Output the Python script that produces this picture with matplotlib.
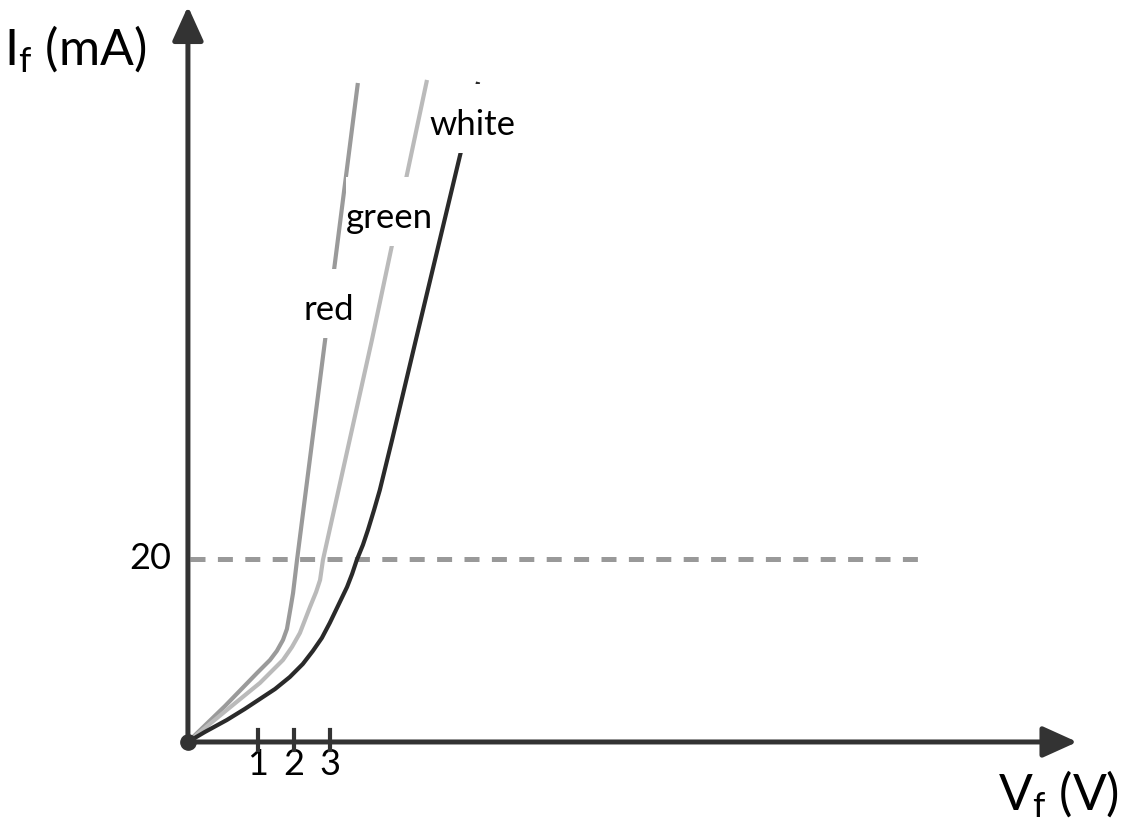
import matplotlib
matplotlib.use("Agg")
import matplotlib.pyplot as plt
from matplotlib.patches import Rectangle

# =====================================================
# 1. DATA
# =====================================================

# x in volts-like units from the origin, y in mA
red_v = [0, 1.03, 1.92, 2.28, 2.47, 2.64, 2.75, 2.86, 2.92, 3.03, 3.81, 4.72]
red_i = [0, 3.93, 7.54, 8.96, 9.95, 11.15, 12.35, 14.86, 16.28, 19.89,
         43.93, 72.02]

green_v = [0, 1.08, 2.00, 2.64, 2.89, 3.11, 3.25, 3.39, 3.56, 3.67, 3.75,
           5.11, 6.64]
green_i = [0, 3.50, 6.45, 8.96, 10.38, 11.91, 13.33, 14.75, 16.39, 17.70,
           19.89, 43.93, 72.35]

white_v = [0, 0.47, 1.08, 1.58, 2.00, 2.42, 2.83, 3.19, 3.47, 3.72, 3.94,
           4.22, 4.42, 4.56, 4.69, 4.86, 5.00, 5.17, 5.33, 5.67, 6.00, 6.33,
           7.56, 8.06]
white_i = [0, 1.09, 2.40, 3.61, 4.70, 5.79, 7.10, 8.52, 9.95, 11.37, 13.01,
           15.30, 16.94, 18.36, 19.89, 21.53, 23.17, 25.36, 27.54, 33.01,
           38.47, 43.93, 64.15, 72.13]

ref_current = 20
ref_end = 20.28

tick_pos = [1.94, 2.94, 3.94]
tick_labels = ["1", "2", "3"]

labels = ["red", "green", "white"]
label_x = [3.90, 5.61, 7.90]
label_y = [46.12, 56.17, 66.34]

x_axis_end = 24.7
y_axis_end = 80.4

# =====================================================
# 2. FIGURE
# =====================================================

plt.rcParams["font.family"] = ["Lato", "DejaVu Sans"]
plt.rcParams["mathtext.fontset"] = "custom"
plt.rcParams["mathtext.rm"] = "Lato"

axis_col = "#333333"

fig = plt.figure(figsize=(11.24, 8.31), dpi=100)
ax = fig.add_axes([0, 0, 1, 1])
ax.set_xlim(-5.22, 26.0)
ax.set_ylim(-9.73, 81.09)
ax.axis("off")

# axes with arrow heads
arrow = dict(arrowstyle="-|>,head_length=0.42,head_width=0.19",
             mutation_scale=50, lw=3.6, color=axis_col,
             shrinkA=0, shrinkB=0)
ax.annotate("", xy=(x_axis_end, 0), xytext=(0, 0), arrowprops=arrow, zorder=5)
ax.annotate("", xy=(0, y_axis_end), xytext=(0, 0), arrowprops=arrow, zorder=5)

# 20 mA reference line
ax.plot([0.05, ref_end], [ref_current, ref_current], color="#999999",
        lw=3.6, dashes=(3.0, 2.48), zorder=1)

# curves
curve_style = dict(lw=3.0, zorder=2, solid_capstyle="butt",
                   solid_joinstyle="round")
ax.plot(red_v, red_i, color="#9a9a9a", **curve_style)
ax.plot(green_v, green_i, color="#bababa", **curve_style)
ax.plot(white_v, white_i, color="#2a2a2a", **curve_style)

# white boxes behind the curve labels (hide part of each curve)
box_w = [1.42, 2.45, 2.42]
box_h = 7.6
for lx, ly, w, name in zip(label_x, label_y, box_w, labels):
    cy = ly + 1.8
    ax.add_patch(Rectangle((lx - w / 2, cy - box_h / 2), w, box_h,
                           fc="white", ec="none", zorder=3))
    ax.text(lx, ly, name, ha="center", va="baseline", fontsize=25,
            color="black", zorder=4)

# origin dot
ax.plot([0], [0], "o", color=axis_col, markersize=11, zorder=6)

# ticks on the voltage axis
for tp, tl in zip(tick_pos, tick_labels):
    ax.plot([tp, tp], [-0.9, 1.3], color=axis_col, lw=3.0, zorder=5)
    ax.text(tp, -0.7, tl, ha="center", va="top", fontsize=26, color="black")

ax.text(-0.45, ref_current, "20", ha="right", va="center", fontsize=26,
        color="black")

# axis titles
ax.text(-5.1, 74.0, r"$\mathregular{I_f}$ (mA)", ha="left", va="baseline",
        fontsize=36, color="black")
ax.text(22.5, -7.43, r"$\mathregular{V_f}$ (V)", ha="left", va="baseline",
        fontsize=36, color="black")

fig.savefig("out.png", dpi=100)
